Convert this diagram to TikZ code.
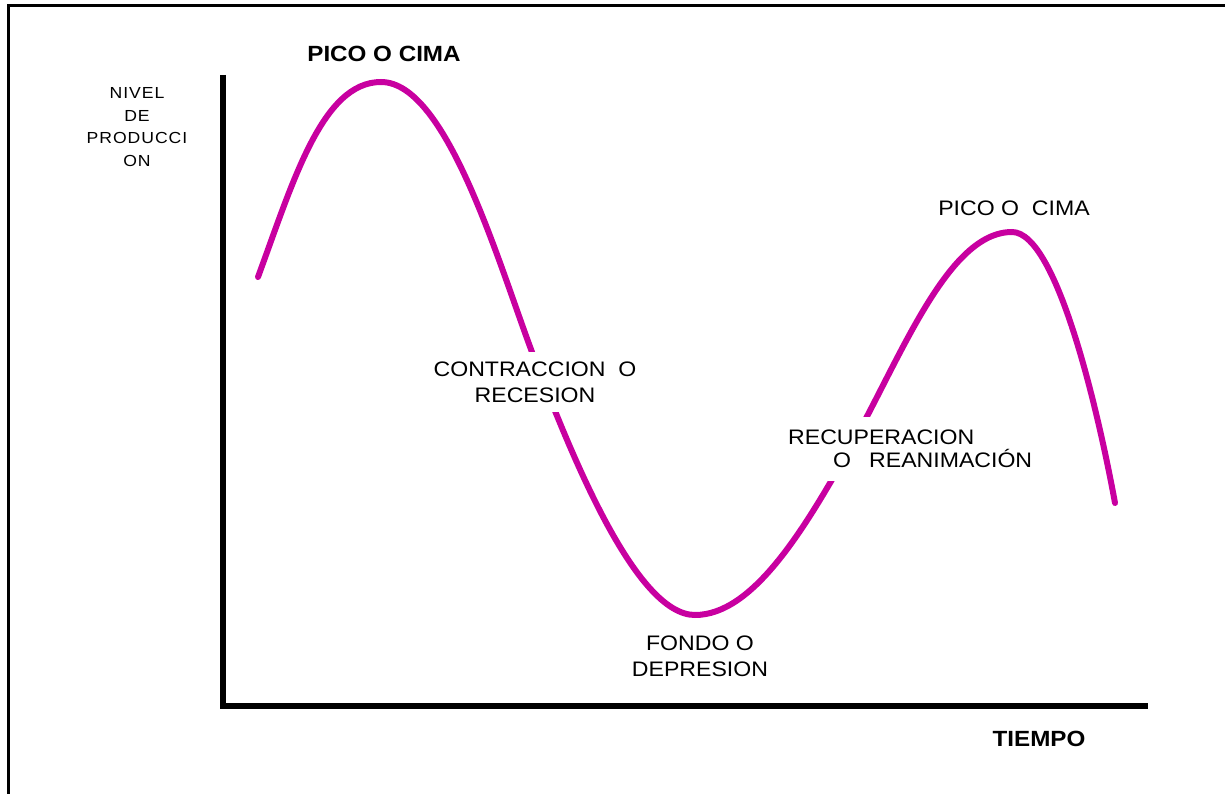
\documentclass[tikz,border=0pt]{standalone}
\usepackage{fontspec}
\setmainfont{Liberation Sans}
\newfontfamily\lblfont[FakeStretch=1.1]{Liberation Sans}
\newfontfamily\axfont[FakeStretch=1.1,LetterSpace=6]{Liberation Sans}
\definecolor{curvemag}{RGB}{200,0,160}
\begin{document}
\begin{tikzpicture}[x=1pt,y=-1pt,
  lbl/.style={font=\lblfont\fontsize{21}{26}\selectfont, align=center, inner sep=0pt},
  boldlbl/.style={font=\lblfont\bfseries\fontsize{22}{26}\selectfont, inner sep=0pt},
  axlbl/.style={font=\axfont\fontsize{16}{22.5}\selectfont, align=center, inner sep=0pt},
  cover/.style={fill=white, inner xsep=2pt},
  axisline/.style={line width=6pt, line join=miter},
  frameline/.style={line width=3pt},
  cyclecurve/.style={curvemag, line width=6pt, line cap=round}]
\useasboundingbox (0,0) rectangle (1225,794);
% frame
\coordinate (fbl) at (8,794);
\coordinate (ftl) at (8,6);
\coordinate (ftr) at (1225,6);
\draw[frameline] (fbl) -- (ftl) -- (ftr);
% axes
\coordinate (ytop) at (223,75);
\coordinate (orig) at (223,706);
\coordinate (xend) at (1148,706);
\draw[axisline] (ytop) -- (orig) -- (xend);
% curve
\coordinate (cA) at (258,277);
\coordinate (cP1) at (381,82);
\coordinate (cI1) at (535,360);
\coordinate (cT) at (695,615);
\coordinate (cI2) at (850,448);
\coordinate (cP2) at (1012,232);
\coordinate (cE) at (1115,503);
\draw[cyclecurve] (cA) .. controls (293,182) and (322,82) .. (cP1)
  .. controls (448,82) and (500,269) .. (cI1)
  .. controls (570,451) and (635,615) .. (cT)
  .. controls (752,615) and (803,532) .. (cI2)
  .. controls (902,355) and (948,232) .. (cP2)
  .. controls (1058,232) and (1100,421) .. (cE);
% labels
\node[boldlbl] (pico1) at (384,54) {PICO O CIMA};
\node[axlbl] (nivel) at (137,127) {NIVEL\\DE\\PRODUCCI\\ON};
\node[lbl, cover, inner ysep=10pt] (contr) at (535,382) {CONTRACCION\ \ O\\RECESION};
\node[lbl] (fondo) at (700,656) {FONDO O\\DEPRESION};
\node[lbl, cover, inner ysep=13pt, align=left, font=\lblfont\fontsize{21}{23}\selectfont, anchor=west] (recup) at (786,449)
  {RECUPERACION\\\hspace*{45pt}O\hspace{18pt}REANIMACIÓN};
\node[lbl] (pico2) at (1014,208) {PICO O\ \ CIMA};
\node[boldlbl] (tiempo) at (1039,739) {TIEMPO};
\end{tikzpicture}
\end{document}
